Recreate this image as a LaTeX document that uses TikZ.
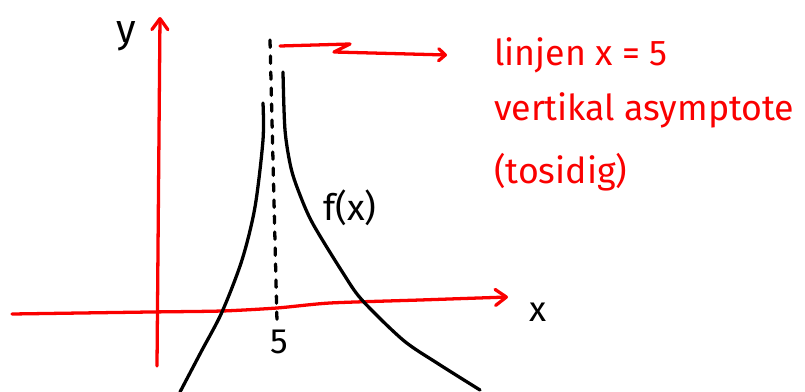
\documentclass[tikz,border=0pt]{standalone}
\usepackage{fontspec}
\setmainfont{Fira Sans}
\usetikzlibrary{arrows.meta,positioning}
\definecolor{hred}{RGB}{250,0,0}

\begin{document}
\begin{tikzpicture}[x=0.03cm,y=-0.03cm,
    >={Straight Barb[length=3.3mm,width=4.8mm,round]},
    pen/.style={line width=2.8pt,line cap=round,line join=round},
    axis/.style={pen,hred},
    graph/.style={pen,black},
    lbl/.style={font=\fontsize{34}{38}\selectfont},
    note/.style={hred,anchor=base west,font=\fontsize{30.5}{34}\selectfont}]
  \useasboundingbox (0,0) rectangle (805,392);
  \coordinate (ybot) at (157,366);
  \coordinate (ytop) at (160,17);
  \coordinate (xleft) at (12,314);
  \coordinate (xright) at (508,297);
  \coordinate (atop) at (270,40);
  \coordinate (abot) at (277,322);
  \coordinate (wstart) at (280,46);
  \coordinate (wkink) at (350,44);
  \coordinate (wback) at (334,52);
  \coordinate (wend) at (447,55);
  % axes
  \draw[axis,->] (ybot) -- (ytop);
  \draw[axis,->] plot[smooth,tension=0.4] coordinates {(xleft) (150,312) (222,311) (277,308) (330,303) (420,300) (xright)};
  \node[lbl] (ylab) at (126,36) {y};
  \node[lbl,font=\fontsize{30}{34}\selectfont] (xlab) at (538,312) {x};
  \node[lbl,font=\fontsize{30}{34}\selectfont] (five) at (279,342) {5};
  % asymptote
  \draw[pen,dash pattern=on 2.2mm off 2.6mm] (atop) -- (abot);
  % the two branches
  \draw[graph] plot[smooth] coordinates {(263,103) (263,140) (255,207) (242,260) (222,312) (201,352) (180,392)};
  \draw[graph] plot[smooth] coordinates {(283,72) (285,130) (291,168) (300,195) (313,224) (343,273) (362,300) (403,340) (437,363) (480,390)};
  \node[lbl,font=\fontsize{31}{34}\selectfont] (fx) at (350,208) {f(x)};
  % annotation
  \node[note] (n1) at (490,65) {linjen x = 5};
  \node[note] (n2) at (490,120) {vertikal asymptote};
  \node[note] (n3) at (490,183) {(tosidig)};
  \draw[axis,-{Straight Barb[length=2mm,width=3.6mm,round]}] (wstart) -- (wkink) -- (wback) -- (wend);
\end{tikzpicture}
\end{document}
